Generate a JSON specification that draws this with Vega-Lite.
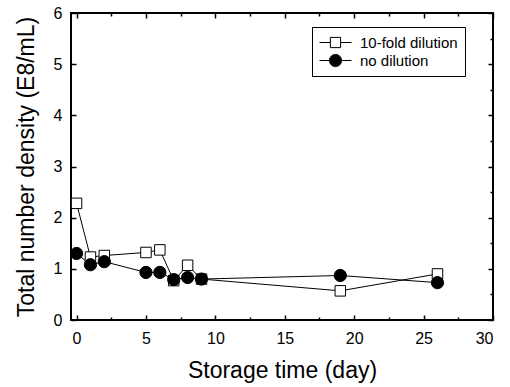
{
  "$schema": "https://vega.github.io/schema/vega-lite/v6.json",
  "width": 422,
  "height": 307,
  "autosize": "none",
  "padding": {"left": 71, "top": 13, "right": 17, "bottom": 67},
  "background": "white",
  "config": {
    "font": "Liberation Sans",
    "view": {"stroke": "black", "strokeWidth": 2},
    "axis": {
      "domain": false, "grid": false, "tickColor": "black", "tickWidth": 1.5,
      "labelColor": "black", "labelFont": "Liberation Sans", "labelFontSize": 16,
      "titleFont": "Liberation Sans", "titleFontSize": 23, "titleFontWeight": "normal", "titleColor": "black"
    }
  },
  "data": {"values": [
    {"day": 0, "density": 2.28, "series": "10-fold dilution"},
    {"day": 1, "density": 1.23, "series": "10-fold dilution"},
    {"day": 2, "density": 1.26, "series": "10-fold dilution"},
    {"day": 5, "density": 1.32, "series": "10-fold dilution"},
    {"day": 6, "density": 1.37, "series": "10-fold dilution"},
    {"day": 7, "density": 0.77, "series": "10-fold dilution"},
    {"day": 8, "density": 1.07, "series": "10-fold dilution"},
    {"day": 9, "density": 0.80, "series": "10-fold dilution"},
    {"day": 19, "density": 0.57, "series": "10-fold dilution"},
    {"day": 26, "density": 0.90, "series": "10-fold dilution"},
    {"day": 0, "density": 1.30, "series": "no dilution"},
    {"day": 1, "density": 1.08, "series": "no dilution"},
    {"day": 2, "density": 1.14, "series": "no dilution"},
    {"day": 5, "density": 0.93, "series": "no dilution"},
    {"day": 6, "density": 0.93, "series": "no dilution"},
    {"day": 7, "density": 0.79, "series": "no dilution"},
    {"day": 8, "density": 0.83, "series": "no dilution"},
    {"day": 9, "density": 0.80, "series": "no dilution"},
    {"day": 19, "density": 0.87, "series": "no dilution"},
    {"day": 26, "density": 0.73, "series": "no dilution"}
  ]},
  "resolve": {"axis": {"x": "independent", "y": "independent"}},
  "layer": [
    {
      "mark": {"type": "line", "color": "black", "strokeWidth": 1},
      "encoding": {
        "x": {"field": "day", "type": "quantitative", "scale": {"domain": [-0.4, 30], "nice": false, "zero": false},
          "axis": {"orient": "bottom", "title": "Storage time (day)", "values": [0,2.5,5,7.5,10,12.5,15,17.5,20,22.5,25,27.5,30],
            "labelExpr": "datum.value % 5 === 0 ? datum.label : ''",
            "tickSize": {"expr": "datum.value % 5 === 0 ? -5 : -3"}, "labelPadding": 15, "titlePadding": 13}},
        "y": {"field": "density", "type": "quantitative", "scale": {"domain": [0, 6], "nice": false},
          "axis": {"orient": "left", "title": "Total number density (E8/mL)", "values": [0,0.5,1,1.5,2,2.5,3,3.5,4,4.5,5,5.5,6],
            "format": "d",
            "labelExpr": "datum.value % 1 === 0 ? datum.label : ''",
            "tickSize": {"expr": "datum.value % 1 === 0 ? -5 : -3"}, "labelPadding": 14, "titlePadding": 15}},
        "detail": {"field": "series"}
      }
    },
    {
      "transform": [{"filter": "datum.series === '10-fold dilution'"}],
      "mark": {"type": "point", "shape": "square", "filled": true, "fill": "white", "stroke": "black", "strokeWidth": 1, "size": 110, "opacity": 1},
      "encoding": {
        "x": {"field": "day", "type": "quantitative",
          "axis": {"orient": "top", "title": null, "labels": false, "values": [0,2.5,5,7.5,10,12.5,15,17.5,20,22.5,25,27.5,30],
            "tickSize": {"expr": "datum.value % 5 === 0 ? -5 : -3"}}},
        "y": {"field": "density", "type": "quantitative",
          "axis": {"orient": "right", "title": null, "labels": false, "values": [0,0.5,1,1.5,2,2.5,3,3.5,4,4.5,5,5.5,6],
            "tickSize": {"expr": "datum.value % 1 === 0 ? -5 : -3"}}}
      }
    },
    {
      "transform": [{"filter": "datum.series === 'no dilution'"}],
      "mark": {"type": "point", "shape": "circle", "filled": true, "fill": "black", "stroke": "black", "strokeWidth": 1, "size": 150, "opacity": 1},
      "encoding": {
        "x": {"field": "day", "type": "quantitative", "axis": null},
        "y": {"field": "density", "type": "quantitative", "axis": null}
      }
    },
    {
      "transform": [{"filter": "false"}],
      "mark": {"type": "point", "filled": true, "stroke": "black", "strokeWidth": 1, "opacity": 1},
      "encoding": {
        "x": {"field": "day", "type": "quantitative", "axis": null},
        "y": {"field": "density", "type": "quantitative", "axis": null},
        "shape": {"field": "series", "type": "nominal",
          "scale": {"domain": ["10-fold dilution", "no dilution"],
            "range": ["M-2,0H-0.64M0.64,0H2M-0.64,-0.64H0.64V0.64H-0.64Z", "M-2,0H-0.76M0.76,0H2M-0.76,0A0.76,0.76 0 1,0 0.76,0A0.76,0.76 0 1,0 -0.76,0Z"]},
          "legend": {"orient": "none", "legendX": 241, "legendY": 14, "title": null, "strokeColor": "black", "fillColor": "white", "padding": 7,
            "symbolSize": 256, "symbolOffset": 8, "labelOffset": 16, "rowPadding": 1, "symbolStrokeColor": "black", "symbolStrokeWidth": 1, "symbolOpacity": 1,
            "labelFontSize": 15, "labelColor": "black", "labelFont": "Liberation Sans",
            "labelExpr": "datum.label + '\u00a0\u00a0'",
            "encode": {"symbols": {"update": {"stroke": {"value": "black"}, "strokeWidth": {"value": 1}, "strokeOpacity": {"value": 1}}}}}},
        "fill": {"field": "series", "type": "nominal",
          "scale": {"domain": ["10-fold dilution", "no dilution"], "range": ["white", "black"]},
          "legend": {"orient": "none", "legendX": 241, "legendY": 14, "title": null, "strokeColor": "black", "fillColor": "white", "padding": 7,
            "symbolSize": 256, "symbolOffset": 8, "labelOffset": 16, "rowPadding": 1, "symbolStrokeColor": "black", "symbolStrokeWidth": 1, "symbolOpacity": 1,
            "labelFontSize": 15, "labelColor": "black", "labelFont": "Liberation Sans",
            "labelExpr": "datum.label + '\u00a0\u00a0'",
            "encode": {"symbols": {"update": {"stroke": {"value": "black"}, "strokeWidth": {"value": 1}, "strokeOpacity": {"value": 1}}}}}}
      }
    }
  ]
}
